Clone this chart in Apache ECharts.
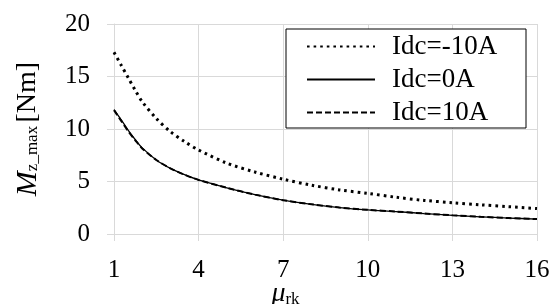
<!DOCTYPE html>
<html lang="en">
<head>
    <meta charset="UTF-8">
    <title>Mz_max vs mu_rk</title>
    <script src="https://cdn.jsdelivr.net/npm/echarts@6/dist/echarts.min.js"></script>
    <style>
        html, body { margin: 0; padding: 0; background: #fff; }
        #container { width: 554px; height: 304px; }
    </style>
</head>
<body>
<div id="container"></div>
<script>
    // values
    const muRk = [1, 1.25, 1.5, 1.75, 2, 2.5, 3, 3.5, 4, 5, 6, 7, 8, 9, 10, 11, 12, 13, 14, 15, 16];
    const idcMinus10 = [17.3, 16.1, 14.9, 13.7, 12.6, 11.0, 9.75, 8.8, 8.0, 6.75, 5.9, 5.22, 4.65, 4.2, 3.87, 3.5, 3.2, 2.98, 2.78, 2.6, 2.42];
    const idc0 = [11.85, 10.9, 9.9, 9.0, 8.2, 7.05, 6.25, 5.65, 5.15, 4.4, 3.75, 3.22, 2.83, 2.52, 2.3, 2.14, 1.95, 1.78, 1.64, 1.52, 1.42];
    const idc10 = [11.8, 10.8, 9.8, 8.95, 8.15, 7.05, 6.25, 5.65, 5.15, 4.4, 3.75, 3.22, 2.83, 2.52, 2.3, 2.14, 1.95, 1.78, 1.64, 1.52, 1.42];
    const seriesNames = ['Idc=-10A', 'Idc=0A', 'Idc=10A'];
    const xTicks = {min: 1, max: 16, step: 3};
    const yTicks = {min: 0, max: 20, step: 5};

    const pairs = (ys) => muRk.map((x, i) => [x, ys[i]]);
    const font = 'Liberation Serif';
    const gridColor = '#d9d9d9';

    var myChart = echarts.init(document.getElementById('container'), null, {renderer: 'canvas'});

    var option = {
        backgroundColor: '#fff',
        animation: false,
        grid: {left: 114, right: 17, top: 24, bottom: 70, containLabel: false, outerBoundsMode: 'none'},
        legend: {
            orient: 'vertical',
            left: 286,
            top: 29,
            padding: [4, 22, 2, 20],
            itemGap: 6,
            itemWidth: 68,
            itemHeight: 16,
            borderColor: '#000',
            borderWidth: 1,
            backgroundColor: '#fff',
            itemStyle: {color: 'transparent', borderWidth: 0, opacity: 0},
            textStyle: {fontFamily: font, fontSize: 27, lineHeight: 26, color: '#000', width: 112, padding: [0, 0, 0, 12]},
            data: seriesNames
        },
        xAxis: {
            type: 'value',
            min: xTicks.min,
            max: xTicks.max,
            interval: xTicks.step,
            name: '{mu|μ}{sub|rk}',
            nameLocation: 'middle',
            nameGap: 46,
            nameMoveOverlap: false,
            nameTextStyle: {
                padding: [0, 80, 0, 0],
                verticalAlign: 'top',
                rich: {
                    mu: {fontFamily: font, fontStyle: 'italic', fontSize: 28, lineHeight: 28, color: '#000'},
                    sub: {fontFamily: font, fontSize: 17, lineHeight: 17, color: '#000', verticalAlign: 'bottom'}
                }
            },
            axisLine: {show: true, lineStyle: {color: gridColor, width: 1}},
            axisTick: {show: true, length: 7, lineStyle: {color: gridColor}},
            axisLabel: {fontFamily: font, fontSize: 25, color: '#000', margin: 24},
            splitLine: {show: true, lineStyle: {color: gridColor, width: 1}}
        },
        yAxis: {
            type: 'value',
            min: yTicks.min,
            max: yTicks.max,
            interval: yTicks.step,
            name: '{m|M}{sub|z_max} {u|[Nm]}',
            nameLocation: 'middle',
            nameRotate: 90,
            nameGap: 71,
            nameTextStyle: {
                rich: {
                    m: {fontFamily: font, fontStyle: 'italic', fontSize: 30, color: '#000'},
                    sub: {fontFamily: font, fontSize: 17, color: '#000', padding: [10, 0, 0, 0]},
                    u: {fontFamily: font, fontSize: 28, color: '#000'}
                }
            },
            axisLine: {show: true, lineStyle: {color: gridColor, width: 1}},
            axisTick: {show: true, length: 7, lineStyle: {color: gridColor}},
            axisLabel: {fontFamily: font, fontSize: 25, color: '#000', margin: 24},
            splitLine: {show: true, lineStyle: {color: gridColor, width: 1}}
        },
        series: [
            {
                name: seriesNames[0],
                type: 'line',
                data: pairs(idcMinus10),
                smooth: 0.3,
                symbol: 'none',
                lineStyle: {color: '#000', width: 3, type: [2.6, 4], cap: 'butt'},
                itemStyle: {color: '#000'}
            },
            {
                name: seriesNames[1],
                type: 'line',
                data: pairs(idc0),
                smooth: 0.3,
                symbol: 'none',
                lineStyle: {color: '#000', width: 1.3, type: 'solid'},
                itemStyle: {color: '#000'}
            },
            {
                name: seriesNames[2],
                type: 'line',
                data: pairs(idc10),
                smooth: 0.3,
                symbol: 'none',
                lineStyle: {color: '#000', width: 2, type: [6, 3]},
                itemStyle: {color: '#000'}
            }
        ]
    };
    myChart.setOption(option);
    window.addEventListener('resize', myChart.resize);
</script>
</body>
</html>
